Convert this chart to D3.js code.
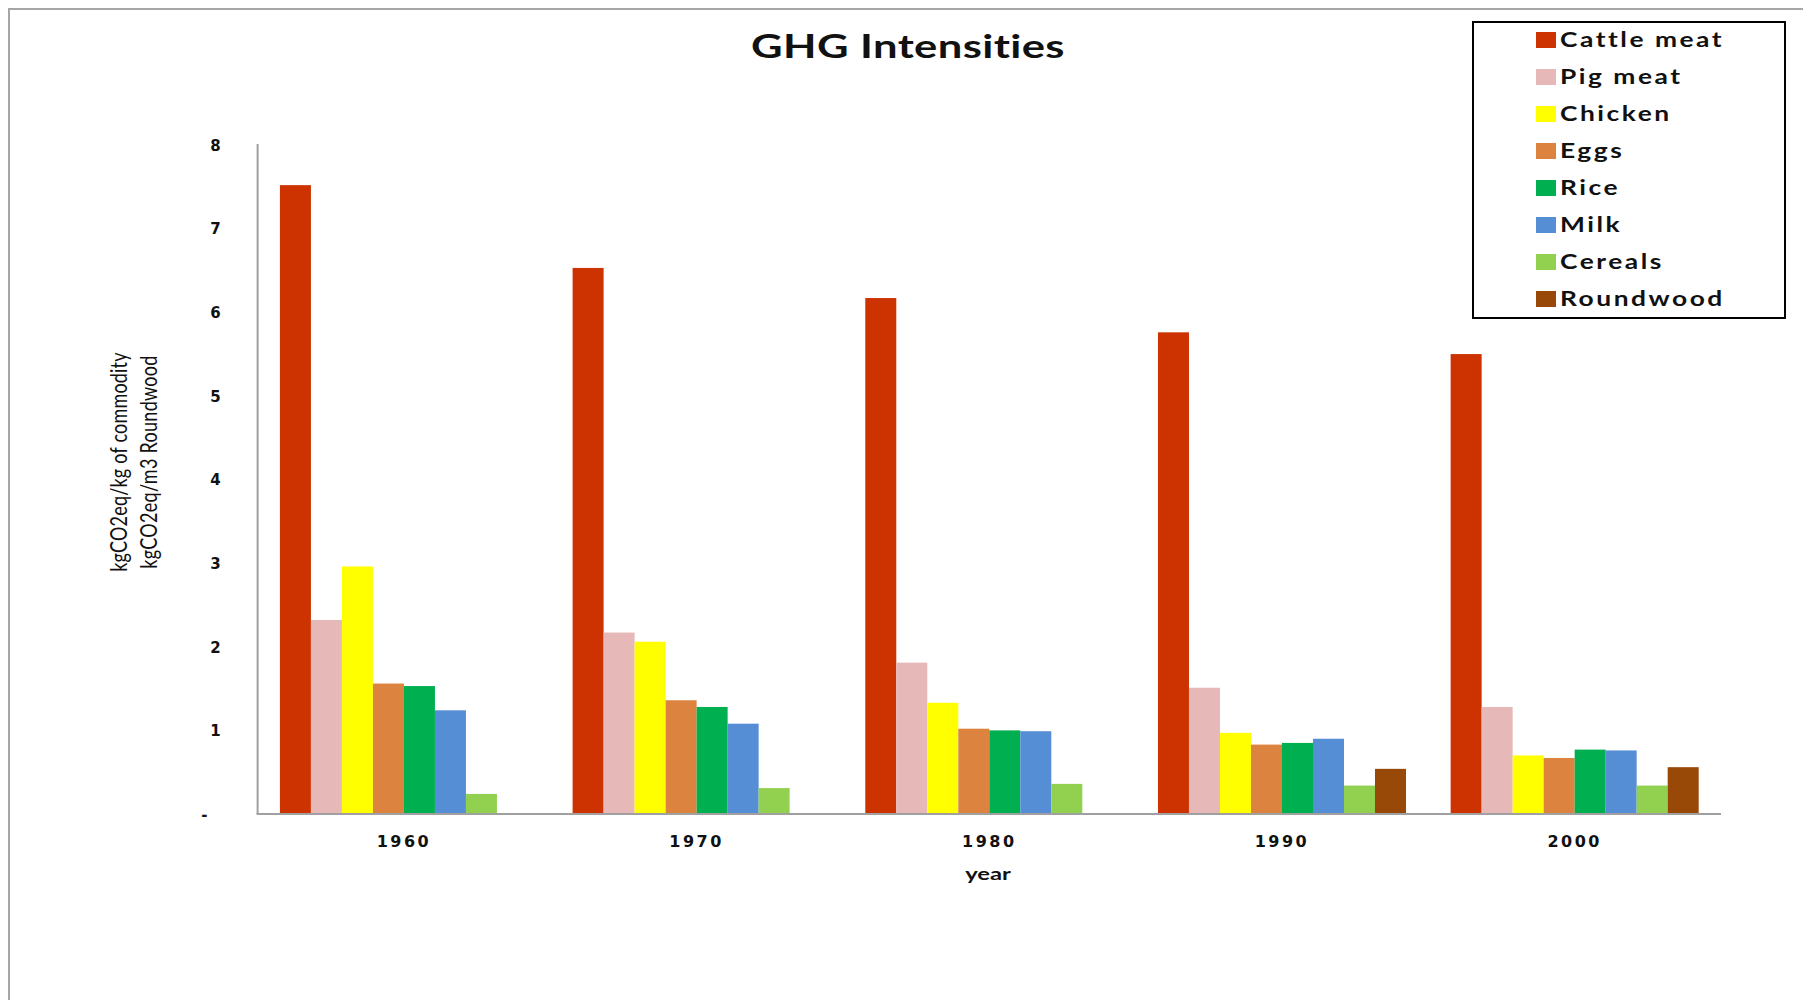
<!DOCTYPE html>
<html>
<head>
<meta charset="utf-8">
<script src="https://cdn.jsdelivr.net/npm/d3@7"></script>
<style>
  html, body { margin: 0; padding: 0; background: #fff; }
  svg { display: block; }
</style>
</head>
<body>
<svg id="chart" width="1803" height="1000"></svg>
<script>
// GHG emission intensities per commodity, by decade
const years = ["1960", "1970", "1980", "1990", "2000"];
const seriesNames = ["Cattle meat", "Pig meat", "Chicken", "Eggs", "Rice", "Milk", "Cereals", "Roundwood"];
const seriesColors = ["#CC3300", "#E6B9B8", "#FFFF00", "#DC843F", "#00B050", "#558ED5", "#92D050", "#984807"];

const cattleMeat = [7.52, 6.53, 6.17, 5.76, 5.50];
const pigMeat    = [2.32, 2.17, 1.81, 1.51, 1.28];
const chicken    = [2.96, 2.06, 1.33, 0.97, 0.70];
const eggs       = [1.56, 1.36, 1.02, 0.83, 0.67];
const rice       = [1.53, 1.28, 1.00, 0.85, 0.77];
const milk       = [1.24, 1.08, 0.99, 0.90, 0.76];
const cereals    = [0.24, 0.31, 0.36, 0.34, 0.34];
const roundwood  = [0, 0, 0, 0.54, 0.56];

const yTicks = [0, 1, 2, 3, 4, 5, 6, 7, 8];
const yTickLabels = ["-", "1", "2", "3", "4", "5", "6", "7", "8"];

const chartTitle = "GHG Intensities";
const xTitle = "year";
const yTitleLines = ["kgCO2eq/kg of commodity", "kgCO2eq/m3 Roundwood"];

const seriesValues = [cattleMeat, pigMeat, chicken, eggs, rice, milk, cereals, roundwood];
const rows = years.map((yr, i) => ({
  year: yr,
  values: seriesNames.map((name, s) => ({ name, color: seriesColors[s], value: seriesValues[s][i] }))
}));

const svg = d3.select("#chart");
const calibriLike = "Lato, 'Open Sans', sans-serif";
const verdanaLike = "'DejaVu Sans', Verdana, sans-serif";
const stretch = 1.32;   // wide horizontal text rendering

// outer frame
svg.append("path")
  .attr("d", "M9,1003 V9 H1806")
  .attr("fill", "none")
  .attr("stroke", "#a6a6a6")
  .attr("stroke-width", 2);

const plot = { left: 257.6, right: 1721, top: 145, bottom: 814 };

const x0 = d3.scaleBand().domain(years).range([plot.left, plot.right]).paddingInner(0).paddingOuter(0);
const x1 = d3.scaleBand().domain(seriesNames).range([0, x0.bandwidth()]).paddingInner(0).paddingOuter(0.72);
const y = d3.scaleLinear().domain([0, 8]).range([plot.bottom, plot.top]);

// bars
const groups = svg.append("g").selectAll("g")
  .data(rows).join("g")
  .attr("transform", d => `translate(${x0(d.year)},0)`);

groups.selectAll("rect")
  .data(d => d.values.filter(v => v.value > 0))
  .join("rect")
  .attr("x", d => x1(d.name))
  .attr("y", d => y(d.value))
  .attr("width", x1.bandwidth())
  .attr("height", d => y(0) - y(d.value))
  .attr("fill", d => d.color);

// y axis
const yAxis = d3.axisLeft(y).tickValues(yTicks).tickSize(0).tickPadding(0)
  .tickFormat((d, i) => yTickLabels[i]);
const yg = svg.append("g").attr("transform", `translate(${plot.left},0)`).call(yAxis);
yg.select(".domain").attr("stroke", "#a0a0a0").attr("stroke-width", 2).attr("d", `M0,${plot.top - 1}V${plot.bottom}`);
yg.selectAll(".tick text")
  .attr("x", -37)
  .attr("dy", "0.35em")
  .attr("font-family", verdanaLike)
  .attr("font-weight", "bold")
  .attr("font-size", 15)
  .attr("fill", "#111")
  .attr("text-anchor", "end")
  .filter(d => d === 0).attr("x", -50);

// x axis
const xAxis = d3.axisBottom(x0).tickSize(0).tickPadding(0);
const xg = svg.append("g").attr("transform", `translate(0,${plot.bottom})`).call(xAxis);
xg.select(".domain").attr("stroke", "#a0a0a0").attr("stroke-width", 2).attr("d", `M${plot.left - 1},0H${plot.right}`);
xg.selectAll(".tick text")
  .attr("y", 33)
  .attr("dy", 0)
  .attr("font-family", verdanaLike)
  .attr("font-weight", "bold")
  .attr("font-size", 16)
  .attr("letter-spacing", "2.5px")
  .attr("fill", "#111");

// titles
function stretchedText(x, yPos, str, size, weight, extra, spacing) {
  return svg.append("text")
    .attr("transform", `translate(${x},${yPos}) scale(${stretch},1)${extra || ""}`)
    .attr("text-anchor", "middle")
    .attr("font-family", calibriLike)
    .attr("font-weight", weight)
    .attr("font-size", size)
    .attr("letter-spacing", spacing || 0)
    .attr("fill", "#111")
    .text(str);
}

stretchedText(908, 58, chartTitle, 33, "bold", "", "0.3px");
stretchedText(988, 880, xTitle, 18, "bold");
stretchedText(127, 462, yTitleLines[0], 18, "normal", " rotate(-90)", "0.2px");
stretchedText(157, 462, yTitleLines[1], 18, "normal", " rotate(-90)", "0.3px");

// legend
const legend = svg.append("g");
legend.append("rect")
  .attr("x", 1473).attr("y", 22).attr("width", 312).attr("height", 296)
  .attr("fill", "#fff").attr("stroke", "#000").attr("stroke-width", 2);

const legendY = d3.scalePoint().domain(seriesNames).range([40, 299]);
const items = legend.selectAll("g.item").data(seriesNames).join("g")
  .attr("class", "item")
  .attr("transform", d => `translate(0,${legendY(d)})`);
items.append("rect")
  .attr("x", 1536).attr("y", -8).attr("width", 20).attr("height", 16)
  .attr("fill", (d, i) => seriesColors[i]);
items.append("text")
  .attr("transform", `translate(1560,0) scale(${stretch},1)`)
  .attr("dy", "0.36em")
  .attr("font-family", calibriLike)
  .attr("font-weight", "bold")
  .attr("font-size", 20)
  .attr("letter-spacing", "1.9px")
  .attr("fill", "#111")
  .text(d => d);
</script>
</body>
</html>
